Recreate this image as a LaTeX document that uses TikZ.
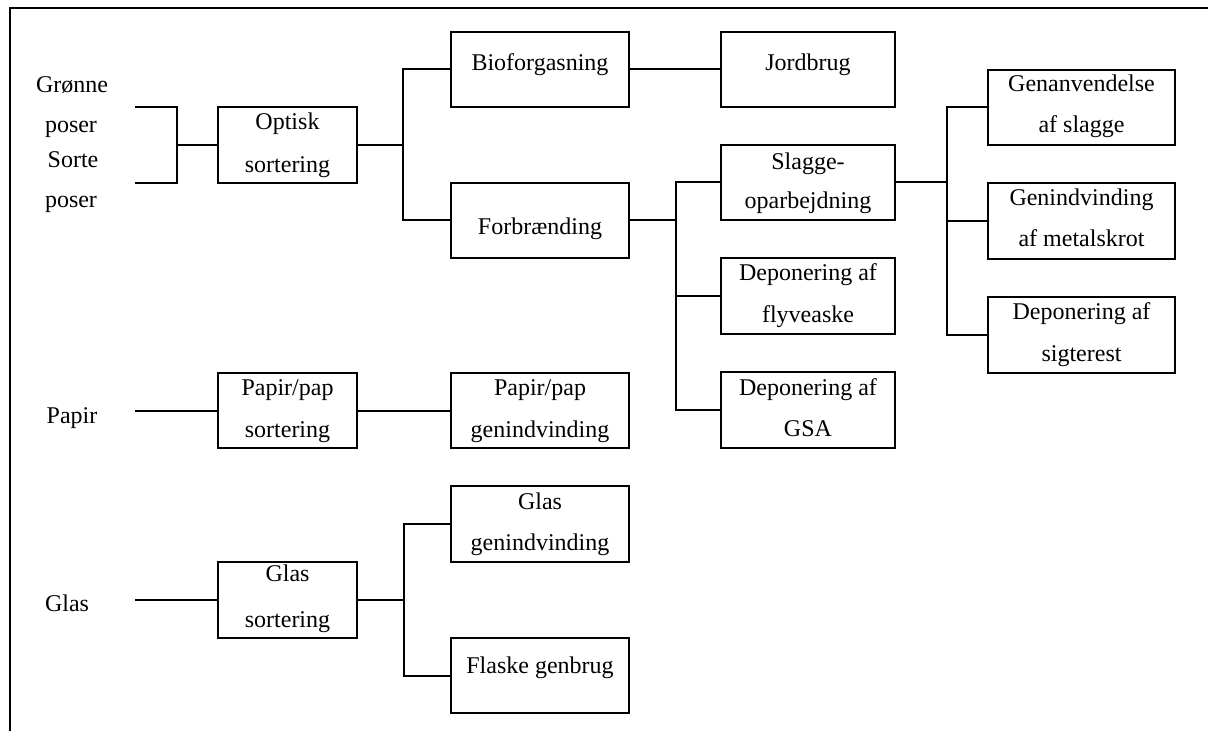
\documentclass[tikz,border=0pt]{standalone}
\usepackage{fontspec}
\setmainfont{Liberation Serif}
\begin{document}
\begin{tikzpicture}[x=0.75pt,y=-0.75pt,
  box/.style={draw,line width=1.5pt,rectangle,inner sep=0pt,minimum height={75.5*0.75pt}},
  wA/.style={minimum width={139*0.75pt}},
  wB/.style={minimum width={178*0.75pt}},
  wC/.style={minimum width={174*0.75pt}},
  wD/.style={minimum width={187*0.75pt}},
  lbl/.style={anchor=base,inner sep=0pt,font=\fontsize{18}{22}\selectfont},
  conn/.style={line width=1.5pt}]
\useasboundingbox (0,0) rectangle (1208,731);
% frame
\coordinate (fa) at (1208,8);
\coordinate (fb) at (10,8);
\coordinate (fc) at (10,731);
\draw[conn] (fa) -- (fb) -- (fc);
% boxes
\node[box,wA] (opt) at (287.5,145) {};
\node[box,wB] (bio) at (540,69.5) {};
\node[box,wC] (jord) at (808,69.5) {};
\node[box,wB] (forb) at (540,220.5) {};
\node[box,wC] (slag) at (808,182.5) {};
\node[box,wC] (flyv) at (808,296) {};
\node[box,wC] (gsa) at (808,410) {};
\node[box,wD] (genanv) at (1081.5,107.5) {};
\node[box,wD] (metal) at (1081.5,221) {};
\node[box,wD] (sigt) at (1081.5,335) {};
\node[box,wA] (papsort) at (287.5,410.5) {};
\node[box,wB] (papgen) at (540,410.5) {};
\node[box,wB] (glasgen) at (540,524) {};
\node[box,wA] (glassort) at (287.5,600) {};
\node[box,wB] (flaske) at (540,675.5) {};
% texts
\node[lbl] (t1) at (72,93) {Grønne};
\node[lbl] (t2) at (71,133) {poser};
\node[lbl] (t3) at (73,168) {Sorte};
\node[lbl] (t4) at (71,208) {poser};
\node[lbl] (t5) at (287.5,130) {Optisk};
\node[lbl] (t6) at (287.5,173) {sortering};
\node[lbl] (t7) at (540,71) {Bioforgasning};
\node[lbl] (t8) at (808,71) {Jordbrug};
\node[lbl] (t9) at (540,235) {Forbrænding};
\node[lbl] (t10) at (808,170) {Slagge-};
\node[lbl] (t11) at (808,209) {oparbejdning};
\node[lbl] (t12) at (808,281) {Deponering af};
\node[lbl] (t13) at (808,323) {flyveaske};
\node[lbl] (t14) at (808,395) {Deponering af};
\node[lbl] (t15) at (808,436) {GSA};
\node[lbl] (t16) at (1081.5,92) {Genanvendelse};
\node[lbl] (t17) at (1081.5,133) {af slagge};
\node[lbl] (t18) at (1081.5,206) {Genindvinding};
\node[lbl] (t19) at (1081.5,247) {af metalskrot};
\node[lbl] (t20) at (1081.5,320) {Deponering af};
\node[lbl] (t21) at (1081.5,361) {sigterest};
\node[lbl] (t22) at (72,423) {Papir};
\node[lbl] (t23) at (287.5,395) {Papir/pap};
\node[lbl] (t24) at (287.5,437) {sortering};
\node[lbl] (t25) at (540,395) {Papir/pap};
\node[lbl] (t26) at (540,437) {genindvinding};
\node[lbl] (t27) at (540,509) {Glas};
\node[lbl] (t28) at (540,550) {genindvinding};
\node[lbl] (t29) at (67,611) {Glas};
\node[lbl] (t30) at (287.5,581) {Glas};
\node[lbl] (t31) at (287.5,627) {sortering};
\node[lbl] (t32) at (540,673) {Flaske genbrug};
% connectors
\coordinate (gtop) at (135,107);
\coordinate (gbot) at (135,183);
\coordinate (j0) at (177,145);
\draw[conn] (gtop) -| (j0) |- (gbot);
\draw[conn] (j0) -- (opt.west);
\coordinate (j1) at (403,145);
\draw[conn] (opt.east) -- (j1);
\draw[conn] (bio.west) -| (j1) |- (forb.west);
\draw[conn] (bio.east) -- (jord.west);
\coordinate (j2) at (676,220.5);
\draw[conn] (forb.east) -- (j2);
\draw[conn] (slag.west) -| (j2) |- (gsa.west);
\draw[conn] (flyv.west) -| (j2);
\coordinate (j3) at (947,182.5);
\draw[conn] (slag.east) -- (j3);
\draw[conn] (genanv.west) -| (j3) |- (sigt.west);
\draw[conn] (metal.west) -| (j3);
\coordinate (pin) at (135,410.5);
\draw[conn] (pin) -- (papsort.west);
\draw[conn] (papsort.east) -- (papgen.west);
\coordinate (gin) at (135,600);
\draw[conn] (gin) -- (glassort.west);
\coordinate (j4) at (404,600);
\draw[conn] (glassort.east) -- (j4);
\draw[conn] (glasgen.west) -| (j4) |- (flaske.west);
\end{tikzpicture}
\end{document}
